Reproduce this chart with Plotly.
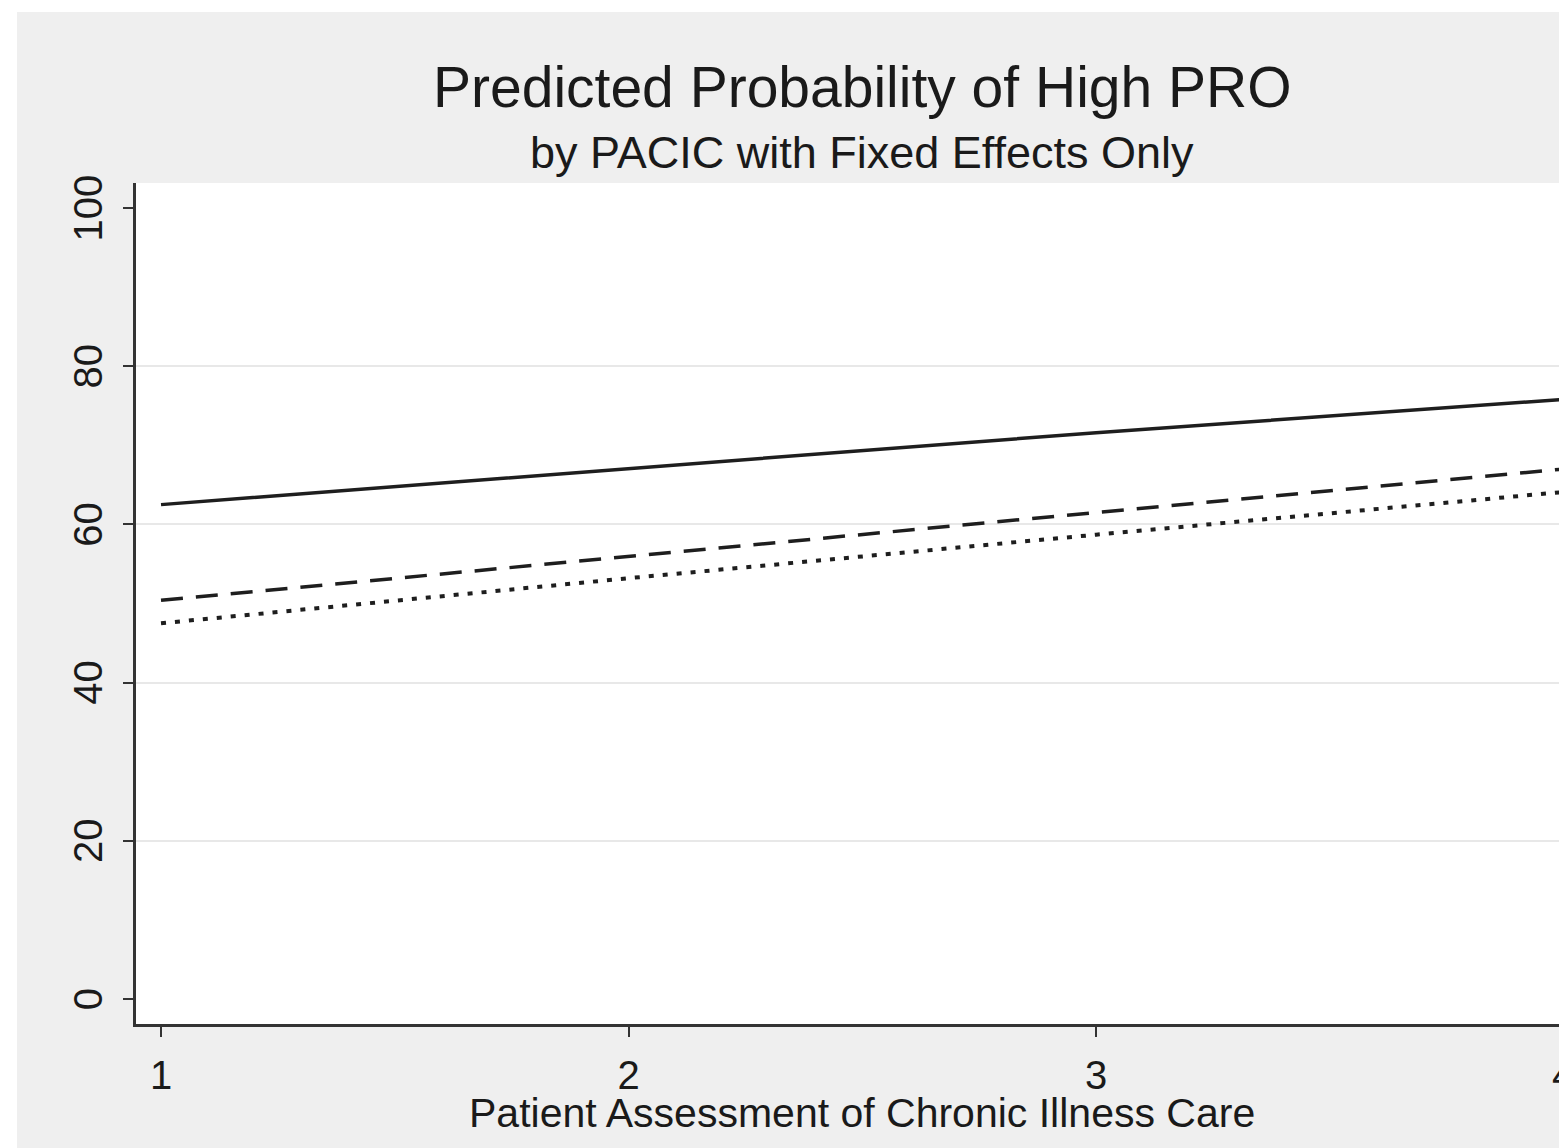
import plotly.graph_objects as go

# Data
pacic = [1, 2, 3, 4]
solid_vals = [62.5, 67.1, 71.6, 75.8]
dashed_vals = [50.4, 56.0, 61.5, 67.0]
dotted_vals = [47.5, 53.2, 58.7, 64.1]
y_ticks = [0, 20, 40, 60, 80, 100]
x_ticks = [1, 2, 3]

OFF = 0
W, H = 1559, 1148
L, T, R, B = 136, 183, 0, 1148 - 1024
PW, PH = W - L - R, H - T - B
FONT = "Liberation Sans, Arial, sans-serif"
LINE = "#1e1e1e"

fig = go.Figure()
fig.add_trace(go.Scatter(x=pacic, y=solid_vals, mode="lines",
                         line=dict(color=LINE, width=3.5), showlegend=False))
fig.add_trace(go.Scatter(x=pacic, y=dashed_vals, mode="lines",
                         line=dict(color=LINE, width=3.5, dash="22px,13px"), showlegend=False))
fig.add_trace(go.Scatter(x=pacic, y=dotted_vals, mode="lines",
                         line=dict(color=LINE, width=4, dash="5px,9px"), showlegend=False))

xr = [0.9465, 3.990]
yr = [-3.16, 103.16]

def px_x(px):
    return (px - OFF - L) / PW

def px_y(py):
    return (H - B - (py - OFF)) / PH

fig.update_layout(
    width=W, height=H,
    margin=dict(l=L, r=R, t=T, b=B, pad=0),
    paper_bgcolor="#efefef",
    plot_bgcolor="white",
    font=dict(family=FONT, color="#1a1a1a"),
    xaxis=dict(range=xr, tickvals=x_ticks, ticks="outside", ticklen=10, tickwidth=2,
               tickcolor="#333", showline=True, linecolor="#333", linewidth=2.5,
               showgrid=False, zeroline=False, tickfont=dict(size=40),
               ticklabelstandoff=4, fixedrange=True),
    yaxis=dict(range=yr, tickvals=y_ticks, ticks="outside", ticklen=10, tickwidth=2,
               tickcolor="#333", showline=True, linecolor="#333", linewidth=2.5,
               showgrid=False, zeroline=False, tickfont=dict(size=40),
               tickangle=-90, ticklabelstandoff=5, ticklabelshift=6),
    yaxis2=dict(range=yr, overlaying="y", tickvals=[20, 40, 60, 80], showticklabels=False,
                showgrid=True, gridcolor="#e8e8e8", gridwidth=2, showline=False,
                zeroline=False, ticks=""),
    shapes=[
        dict(type="rect", xref="paper", yref="paper", x0=px_x(-20), x1=px_x(1600),
             y0=px_y(12), y1=px_y(-20),
             fillcolor="white", line=dict(width=0), layer="below"),
        dict(type="rect", xref="paper", yref="paper", x0=px_x(-20), x1=px_x(17),
             y0=px_y(1200), y1=px_y(-20),
             fillcolor="white", line=dict(width=0), layer="below"),
    ],
)

# invisible trace to activate the grid axis
fig.add_trace(go.Scatter(x=[None], y=[None], yaxis="y2", showlegend=False))

fig.add_annotation(text="Predicted Probability of High PRO", xref="paper", yref="paper",
                   x=px_x(862), y=px_y(87), showarrow=False, xanchor="center", yanchor="middle",
                   font=dict(size=57, family=FONT, color="#1a1a1a"))
fig.add_annotation(text="by PACIC with Fixed Effects Only", xref="paper", yref="paper",
                   x=px_x(862), y=px_y(152), showarrow=False, xanchor="center", yanchor="middle",
                   font=dict(size=45, family=FONT, color="#1a1a1a"))
fig.add_annotation(text="Patient Assessment of Chronic Illness Care", xref="paper", yref="paper",
                   x=px_x(862), y=px_y(1113), showarrow=False, xanchor="center", yanchor="middle",
                   font=dict(size=41, family=FONT, color="#1a1a1a"))
fig.add_annotation(text="4", xref="paper", yref="paper",
                   x=px_x(1563), y=px_y(1075), showarrow=False, xanchor="center", yanchor="middle",
                   font=dict(size=40, family=FONT, color="#1a1a1a"))

fig.write_html(
    "out.html",
    config={"displayModeBar": False},
    post_script="document.body.style.margin='0';document.body.style.overflow='hidden';"
                "document.documentElement.style.overflow='hidden';",
)
